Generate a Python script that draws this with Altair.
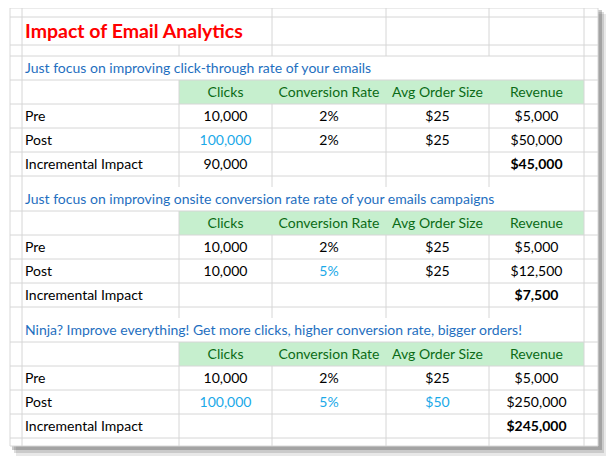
import altair as alt
import pandas as pd

# ---------------- data ----------------
TITLE = "Impact of Email Analytics"
subtitles = [
    "Just focus on improving click-through rate of your emails",
    "Just focus on improving onsite conversion rate rate of your emails campaigns",
    "Ninja? Improve everything! Get more clicks, higher conversion rate, bigger orders!",
]
headers = ["Clicks", "Conversion Rate", "Avg Order Size", "Revenue"]
row_labels = ["Pre", "Post", "Incremental Impact"]

pre_values = [
    ["10,000", "2%", "$25", "$5,000"],
    ["10,000", "2%", "$25", "$5,000"],
    ["10,000", "2%", "$25", "$5,000"],
]
post_values = [
    ["100,000", "2%", "$25", "$50,000"],
    ["10,000", "5%", "$25", "$12,500"],
    ["100,000", "5%", "$50", "$250,000"],
]
incr_clicks = ["90,000", "", ""]
incr_revenue = ["$45,000", "$7,500", "$245,000"]
# which Post cells are highlighted (changed inputs)
post_highlight = [
    [True, False, False, False],
    [False, True, False, False],
    [True, True, True, False],
]

# ---------------- layout ----------------
FONT = "Lato"
FS = 14
col_edges = [22, 179, 272, 386, 489, 584]
paper = dict(x0=10, x1=598, y0=8, y1=446)
section_top = [56, 187, 318]
ROW = 24
title_rows = [17, 45, 56]

LABEL_X = 25
C_BLACK = "#000000"
C_HI = "#1aa9e8"
C_SUB = "#1f6fc0"
C_HEAD = "#0b6b16"
C_FILL = "#c6efce"
C_GRID = "#d6d6d6"

centers = [(col_edges[i] + col_edges[i + 1]) / 2 for i in range(1, 5)]

# text tables
val_rows, bold_rows, label_rows, head_rows, sub_rows = [], [], [], [], []
for s in range(3):
    top = section_top[s]
    sub_rows.append(dict(x=LABEL_X, y=top + ROW / 2 + 0.5, t=subtitles[s]))
    for j, h in enumerate(headers):
        head_rows.append(dict(x=centers[j], y=top + ROW * 1.5 + 0.5, t=h))
    for r, lab in enumerate(row_labels):
        label_rows.append(dict(x=LABEL_X, y=top + ROW * (2.5 + r) + 0.5, t=lab))
    for j in range(4):
        val_rows.append(dict(x=centers[j], y=top + ROW * 2.5 + 0.5, t=pre_values[s][j], c=C_BLACK))
        val_rows.append(dict(x=centers[j], y=top + ROW * 3.5 + 0.5, t=post_values[s][j],
                             c=C_HI if post_highlight[s][j] else C_BLACK))
    if incr_clicks[s]:
        val_rows.append(dict(x=centers[0], y=top + ROW * 4.5 + 0.5, t=incr_clicks[s], c=C_BLACK))
    bold_rows.append(dict(x=centers[3], y=top + ROW * 4.5 + 0.5, t=incr_revenue[s]))

# grid lines
hlines = [dict(x=paper["x0"], x2=paper["x1"], y=y, y2=y) for y in title_rows]
vlines = []
vlines.append(dict(x=col_edges[0], x2=col_edges[0], y=paper["y0"], y2=paper["y1"]))
for x in col_edges[2:]:
    vlines.append(dict(x=x, x2=x, y=paper["y0"], y2=title_rows[2]))
vlines.append(dict(x=col_edges[1], x2=col_edges[1], y=title_rows[1], y2=title_rows[2]))
fills = []
for s in range(3):
    top = section_top[s]
    for k in range(1, 6):
        y = top + ROW * k
        hlines.append(dict(x=paper["x0"], x2=paper["x1"], y=y, y2=y))
    # subtitle row: only right border
    vlines.append(dict(x=col_edges[5], x2=col_edges[5], y=top, y2=top + ROW * 2))
    vlines.append(dict(x=col_edges[1], x2=col_edges[1], y=top + ROW, y2=top + ROW * 5))
    for x in col_edges[2:]:
        vlines.append(dict(x=x, x2=x, y=top + ROW * 2, y2=top + ROW * 5))
    # spacer row after section
    if s < 2:
        for x in col_edges[1:]:
            vlines.append(dict(x=x, x2=x, y=top + ROW * 5, y2=section_top[s + 1]))
    else:
        for x in col_edges[1:]:
            vlines.append(dict(x=x, x2=x, y=top + ROW * 5, y2=paper["y1"]))
    fills.append(dict(x=col_edges[1], x2=col_edges[5], y=top + ROW, y2=top + ROW * 2))

shadow = [
    dict(x=paper["x0"] + 6, x2=paper["x1"] + 8, y=paper["y0"] + 6, y2=paper["y1"] + 10, o=0.12),
    dict(x=paper["x0"] + 4, x2=paper["x1"] + 6, y=paper["y0"] + 4, y2=paper["y1"] + 7, o=0.18),
    dict(x=paper["x0"] + 2, x2=paper["x1"] + 4, y=paper["y0"] + 2, y2=paper["y1"] + 4, o=0.28),
]
paper_df = [dict(x=paper["x0"], x2=paper["x1"], y=paper["y0"], y2=paper["y1"])]

XS = alt.Scale(domain=[8, 608], nice=False, zero=False)
YS = alt.Scale(domain=[8, 460], nice=False, zero=False, reverse=True)


def X(f="x"):
    return alt.X(f"{f}:Q", scale=XS, axis=None)


def Y(f="y"):
    return alt.Y(f"{f}:Q", scale=YS, axis=None)


base_rect = lambda d: alt.Chart(pd.DataFrame(d))

shadow_layer = base_rect(shadow).mark_rect(color="#404040").encode(
    x=X(), x2="x2:Q", y=Y(), y2="y2:Q", opacity=alt.Opacity("o:Q", scale=None))
paper_layer = base_rect(paper_df).mark_rect(color="white", stroke="#d8d8d8", strokeWidth=1).encode(
    x=X(), x2="x2:Q", y=Y(), y2="y2:Q")
fill_layer = base_rect(fills).mark_rect(color=C_FILL).encode(
    x=X(), x2="x2:Q", y=Y(), y2="y2:Q")
h_layer = base_rect(hlines).mark_rule(color=C_GRID, strokeWidth=1).encode(
    x=X(), x2="x2:Q", y=Y(), y2="y2:Q")
v_layer = base_rect(vlines).mark_rule(color=C_GRID, strokeWidth=1).encode(
    x=X(), x2="x2:Q", y=Y(), y2="y2:Q")

title_layer = alt.Chart(pd.DataFrame([dict(x=LABEL_X, y=31.5, t=TITLE)])).mark_text(
    font=FONT, fontSize=19.5, fontWeight="bold", color="#ff0000", align="left", baseline="middle"
).encode(x=X(), y=Y(), text="t:N")
sub_layer = alt.Chart(pd.DataFrame(sub_rows)).mark_text(
    font=FONT, fontSize=FS, color=C_SUB, align="left", baseline="middle"
).encode(x=X(), y=Y(), text="t:N")
head_layer = alt.Chart(pd.DataFrame(head_rows)).mark_text(
    font=FONT, fontSize=FS, color=C_HEAD, align="center", baseline="middle"
).encode(x=X(), y=Y(), text="t:N")
label_layer = alt.Chart(pd.DataFrame(label_rows)).mark_text(
    font=FONT, fontSize=FS, color=C_BLACK, align="left", baseline="middle"
).encode(x=X(), y=Y(), text="t:N")
val_layer = alt.Chart(pd.DataFrame(val_rows)).mark_text(
    font=FONT, fontSize=FS, align="center", baseline="middle"
).encode(x=X(), y=Y(), text="t:N", color=alt.Color("c:N", scale=None))
bold_layer = alt.Chart(pd.DataFrame(bold_rows)).mark_text(
    font=FONT, fontSize=FS, fontWeight="bold", color=C_BLACK, align="center", baseline="middle"
).encode(x=X(), y=Y(), text="t:N")

chart = alt.layer(
    shadow_layer, paper_layer, fill_layer, h_layer, v_layer,
    title_layer, sub_layer, head_layer, label_layer, val_layer, bold_layer
).properties(
    width=600, height=452, padding=0,
    autosize=alt.AutoSizeParams(type="none"),
    background="white",
).configure_view(stroke=None)

chart.save("out.html", embed_options={"renderer": "svg", "actions": False})
